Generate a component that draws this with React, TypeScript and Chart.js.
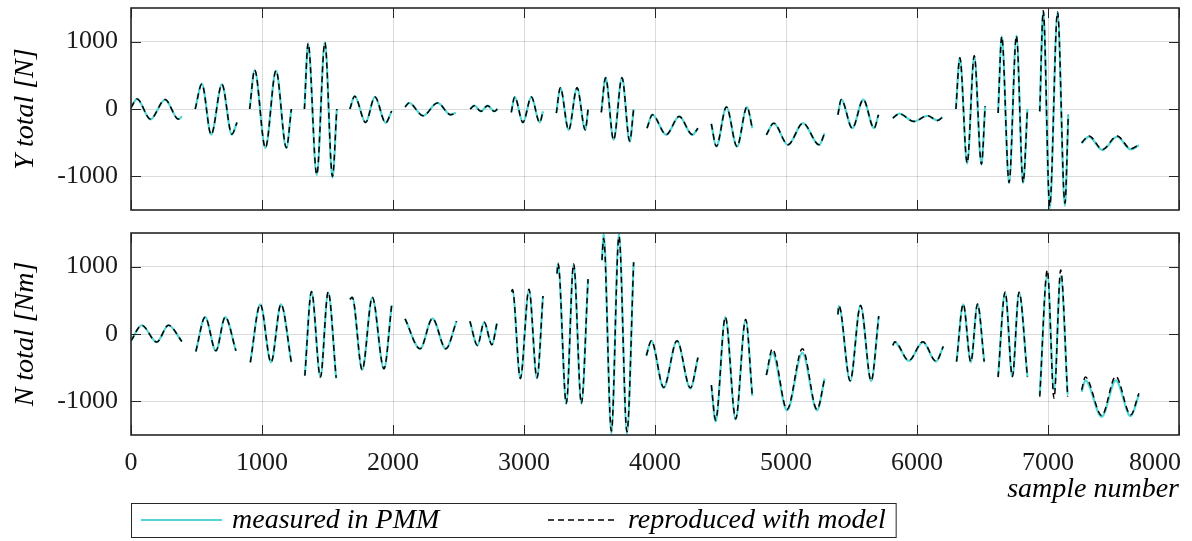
import React, { useEffect, useRef } from 'react';
import { Chart, registerables } from 'chart.js';

Chart.register(...registerables);

// ---------- axis ticks ----------
const sampleTicks = [0, 1000, 2000, 3000, 4000, 5000, 6000, 7000, 8000];
const valueTicks = [-1000, 0, 1000];

// ---------- Y total [N] (upper panel); null = gap between runs ----------
const ySamples = [
  0, 46, 148, 260, 362, 390, 440,
  490, 541, 612, 694, 770, 809, 857,
  906, 944, 1026, 1107, 1186, 1224, 1274,
  1324, 1352, 1418, 1480, 1538, 1571, 1620,
  1671, 1707, 1791, 1862, 1944, 1990, 2040,
  2092, 2122, 2230, 2339, 2441, 2480, 2535,
  2589, 2620, 2671, 2722, 2773, 2798, 2850,
  2903, 2929, 2992, 3056, 3120, 3145, 3195,
  3247, 3277, 3341, 3405, 3468, 3489, 3540,
  3590, 3623, 3684, 3748, 3807, 3837, 3888,
  3939, 3980, 4085, 4185, 4285, 4328, 4380,
  4430, 4468, 4545, 4626, 4702, 4743, 4797,
  4850, 4906, 5015, 5130, 5252, 5295, 5345,
  5396, 5422, 5506, 5590, 5672, 5706, 5760,
  5815, 5865, 5975, 6081, 6157, 6195, 6245,
  6297, 6327, 6383, 6437, 6492, 6520, 6570,
  6619, 6647, 6703, 6759, 6810, 6843, 6890,
  6937, 6964, 7013, 7073, 7129, 7155, 7205,
  7256, 7313, 7415, 7528, 7631, 7694,
];
const yMeasured = [
  20, 150, -155, 140, -150, -110, null,
  0, 375, -380, 365, -380, -200, null,
  0, 575, -580, 570, -580, 0, null,
  0, 960, -980, 990, -1020, 0, null,
  0, 190, -200, 180, -205, -30, null,
  30, 90, -100, 90, -85, -55, null,
  0, 50, -35, 50, -35, 0, null,
  -50, 180, -200, 180, -200, -35, null,
  -60, 315, -310, 315, -310, -10, null,
  -50, 465, -460, 465, -485, 0, null,
  -285, -85, -385, -110, -385, -285, null,
  -220, -560, 30, -560, 30, -285, null,
  -385, -210, -535, -210, -535, -360, null,
  -85, 140, -285, 140, -285, -85, null,
  -135, -70, -185, -100, -170, -120, null,
  0, 765, -810, 790, -825, 40, null,
  -60, 1080, -1100, 1090, -1100, 0, null,
  -35, 1450, -1490, 1440, -1440, -85, null,
  -510, -410, -610, -410, -600, -540,
];
const yModel = [
  20, 150, -150, 140, -150, -110, null,
  0, 370, -380, 365, -375, -200, null,
  0, 580, -575, 570, -575, 0, null,
  0, 975, -975, 985, -1000, 0, null,
  0, 190, -200, 180, -205, -30, null,
  30, 90, -100, 90, -85, -55, null,
  0, 50, -35, 50, -35, 0, null,
  -50, 180, -200, 180, -200, -35, null,
  -60, 315, -310, 315, -310, -10, null,
  -50, 465, -460, 465, -475, 0, null,
  -285, -85, -380, -110, -380, -285, null,
  -220, -555, 30, -555, 30, -285, null,
  -385, -210, -530, -210, -530, -360, null,
  -85, 140, -285, 140, -285, -85, null,
  -135, -70, -185, -100, -170, -120, null,
  0, 760, -800, 790, -820, 40, null,
  -60, 1075, -1090, 1085, -1090, 0, null,
  -35, 1460, -1440, 1440, -1400, -85, null,
  -500, -400, -600, -400, -590, -530,
];

// ---------- N total [Nm] (lower panel) ----------
const nSamples = [
  0, 82, 196, 286, 388, 440,
  495, 566, 648, 719, 801, 855,
  911, 987, 1069, 1145, 1224, 1275,
  1327, 1378, 1446, 1505, 1566, 1620,
  1671, 1689, 1765, 1842, 1931, 1990, 2040,
  2092, 2207, 2301, 2403, 2485, 2537,
  2587, 2645, 2696, 2755, 2793, 2850,
  2905, 2912, 2972, 3038, 3099, 3145, 3198,
  3252, 3260, 3323, 3379, 3438, 3489, 3542,
  3595, 3608, 3667, 3725, 3786, 3837, 3886,
  3934, 3972, 4066, 4168, 4270, 4328, 4380,
  4430, 4463, 4537, 4616, 4692, 4743, 4797,
  4850, 4896, 5008, 5125, 5237, 5295, 5345,
  5396, 5404, 5490, 5569, 5650, 5708, 5760,
  5815, 5830, 5937, 6045, 6145, 6201, 6250,
  6302, 6353, 6411, 6462, 6513, 6566,
  6619, 6673, 6728, 6779, 6843, 6890,
  6937, 6995, 7046, 7097, 7150, 7200,
  7257, 7285, 7410, 7517, 7631, 7694,
];
const nMeasured = [
  -100, 130, -120, 130, -110, null,
  -260, 250, -250, 250, -250, null,
  -420, 440, -420, 440, -420, null,
  -610, 625, -635, 615, -660, null,
  515, 540, -535, 540, -520, 430, null,
  225, -220, 230, -220, 190, null,
  190, -170, 175, -160, 155, null,
  620, 650, -660, 655, -660, 565, null,
  890, 1040, -1035, 1030, -1035, 815, null,
  1090, 1500, -1480, 1500, -1480, 1065, null,
  -320, -100, -800, -100, -810, -350, null,
  -760, -1300, 250, -1270, 215, -920, null,
  -610, -280, -1135, -280, -1135, -660, null,
  290, 415, -700, 425, -700, 265, null,
  -170, -120, -400, -120, -410, -185, null,
  -410, 440, -420, 440, -410, null,
  -635, 615, -635, 615, -635, null,
  -900, 880, -830, 860, -900, null,
  -860, -690, -1230, -690, -1220, -900,
];
const nModel = [
  -100, 130, -120, 130, -110, null,
  -260, 250, -250, 250, -250, null,
  -420, 440, -420, 440, -420, null,
  -620, 630, -640, 625, -650, null,
  515, 545, -530, 545, -515, 430, null,
  225, -220, 230, -220, 190, null,
  190, -170, 175, -160, 155, null,
  630, 660, -660, 665, -650, 565, null,
  900, 1050, -1030, 1040, -1030, 815, null,
  1100, 1420, -1440, 1450, -1450, 1065, null,
  -320, -100, -790, -100, -800, -350, null,
  -760, -1280, 250, -1260, 215, -920, null,
  -610, -220, -1120, -220, -1120, -660, null,
  290, 420, -695, 425, -695, 265, null,
  -170, -115, -395, -115, -405, -185, null,
  -410, 445, -415, 445, -410, null,
  -640, 625, -630, 620, -640, null,
  -930, 950, -955, 950, -930, null,
  -830, -640, -1210, -630, -1200, -880,
];

const seriesLabels = ['measured in PMM', 'reproduced with model'];
const measuredColor = 'rgb(80, 214, 214)';
const modelColor = '#000000';
const frameColor = '#262626';
const labelColor = '#1a1a1a';
const gridColor = 'rgba(0,0,0,0.14)';
const serif = "'Liberation Serif', 'Times New Roman', serif";
const tickFontSize = 26;
const tickPadding = 13;

const framePlugin = {
  id: 'matlabFrame',
  afterDraw(chart: any) {
    const { ctx, chartArea, scales } = chart;
    const { left, right, top, bottom } = chartArea;
    ctx.save();
    ctx.strokeStyle = frameColor;
    ctx.lineWidth = 1;
    ctx.beginPath();
    for (const v of sampleTicks) {
      const px = Math.round(scales.x.getPixelForValue(v)) + 0.5;
      ctx.moveTo(px, top);
      ctx.lineTo(px, top + 10);
      ctx.moveTo(px, bottom);
      ctx.lineTo(px, bottom - 10);
    }
    for (const v of valueTicks) {
      const py = Math.round(scales.y.getPixelForValue(v)) + 0.5;
      ctx.moveTo(left, py);
      ctx.lineTo(left + 10, py);
      ctx.moveTo(right, py);
      ctx.lineTo(right - 10, py);
    }
    ctx.stroke();
    ctx.lineWidth = 1.6;
    ctx.strokeRect(left, top, right - left, bottom - top);

    // the last sample-number label sits flush with the right edge of the axes
    if (scales.x.options.ticks.display) {
      const last = sampleTicks[sampleTicks.length - 1];
      ctx.font = `${tickFontSize}px ${serif}`;
      ctx.fillStyle = labelColor;
      ctx.textAlign = 'right';
      ctx.textBaseline = 'middle';
      ctx.fillText(
        String(last),
        scales.x.getPixelForValue(last) + 2,
        scales.x.top + tickPadding + (tickFontSize * 1.2) / 2
      );
    }
    ctx.restore();
  },
};

const boxLegendPlugin = {
  id: 'boxLegend',
  afterDraw(chart: any) {
    const { ctx } = chart;
    const ds = chart.data.datasets;
    const boxLeft = 131;
    const boxTop = 281;
    const boxH = 34;
    const cy = boxTop + boxH / 2;
    ctx.save();
    ctx.font = `italic 28px ${serif}`;
    ctx.textBaseline = 'middle';
    ctx.fillStyle = '#000';
    const meas = ds.find((d: any) => d.label === seriesLabels[0]);
    const mod = ds.find((d: any) => d.label === seriesLabels[1]);
    // measured entry
    ctx.strokeStyle = meas.borderColor;
    ctx.lineWidth = 2;
    ctx.beginPath();
    ctx.moveTo(141, cy);
    ctx.lineTo(222, cy);
    ctx.stroke();
    ctx.fillText(meas.label, 232, cy + 1);
    // model entry
    ctx.strokeStyle = mod.borderColor;
    ctx.lineWidth = 1.5;
    ctx.setLineDash(mod.borderDash);
    ctx.beginPath();
    ctx.moveTo(548, cy);
    ctx.lineTo(616, cy);
    ctx.stroke();
    ctx.setLineDash([]);
    const x2 = 628;
    ctx.fillText(mod.label, x2, cy + 1);
    const w2 = ctx.measureText(mod.label).width;
    const boxRight = x2 + w2 + 10;
    ctx.strokeStyle = frameColor;
    ctx.lineWidth = 1;
    ctx.strokeRect(boxLeft + 0.5, boxTop + 0.5, boxRight - boxLeft, boxH);
    ctx.restore();
  },
};

function toPoints(xs: number[], ys: (number | null)[]) {
  return xs.map((x, i) => ({ x, y: ys[i] }));
}

const plainLabel = (v: any) => String(v);
const sampleLabel = (v: any, i: number, ticks: any[]) =>
  i === ticks.length - 1 ? '' : String(v);

function buildConfig(
  xs: number[],
  measured: (number | null)[],
  model: (number | null)[],
  yTitle: string,
  bottom: boolean
): any {
  return {
    type: 'line',
    data: {
      datasets: [
        {
          label: seriesLabels[1],
          data: toPoints(xs, model),
          borderColor: modelColor,
          borderWidth: 1.5,
          borderDash: [6, 4],
          pointRadius: 0,
          cubicInterpolationMode: 'monotone',
          spanGaps: false,
          order: 0,
        },
        {
          label: seriesLabels[0],
          data: toPoints(xs, measured),
          borderColor: measuredColor,
          borderWidth: 2.2,
          pointRadius: 0,
          cubicInterpolationMode: 'monotone',
          spanGaps: false,
          order: 1,
        },
      ],
    },
    options: {
      animation: false,
      responsive: false,
      maintainAspectRatio: false,
      events: [],
      layout: {
        padding: bottom
          ? { left: 0, right: 13, top: 11, bottom: 26 }
          : { left: 0, right: 13, top: 8, bottom: 12 },
      },
      plugins: {
        legend: { display: false },
        tooltip: { enabled: false },
      },
      scales: {
        x: {
          type: 'linear',
          min: 0,
          max: 8000,
          afterBuildTicks: (s: any) => {
            s.ticks = sampleTicks.map((v) => ({ value: v }));
          },
          afterFit: (s: any) => {
            s.height = bottom ? 80 : 0;
            s.paddingLeft = 0;
            s.paddingRight = 0;
            s.paddingTop = 0;
            s.paddingBottom = 0;
          },
          ticks: {
            display: bottom,
            padding: tickPadding,
            color: labelColor,
            maxRotation: 0,
            autoSkip: false,
            callback: sampleLabel,
            font: { family: serif, size: tickFontSize, lineHeight: 1.2 },
          },
          grid: { color: gridColor, lineWidth: 1, drawTicks: false },
          border: { display: false },
          title: {
            display: bottom,
            text: 'sample number',
            align: 'end',
            color: '#000',
            font: { family: serif, size: 28, style: 'italic', lineHeight: 1.2 },
            padding: { top: 0, bottom: 9 },
          },
        },
        y: {
          type: 'linear',
          min: -1500,
          max: 1500,
          afterBuildTicks: (s: any) => {
            s.ticks = valueTicks.map((v) => ({ value: v }));
          },
          afterFit: (s: any) => {
            s.width = 131;
            s.paddingLeft = 0;
            s.paddingRight = 0;
            s.paddingTop = 0;
            s.paddingBottom = 0;
          },
          ticks: {
            padding: 13,
            color: labelColor,
            callback: plainLabel,
            font: { family: serif, size: tickFontSize, lineHeight: 1.2 },
          },
          grid: { color: gridColor, lineWidth: 1, drawTicks: false },
          border: { display: false },
          title: {
            display: true,
            text: yTitle,
            color: '#000',
            font: { family: serif, size: 28, style: 'italic', lineHeight: 1.2 },
            padding: { top: 9, bottom: 0 },
          },
        },
      },
    },
    plugins: bottom ? [framePlugin, boxLegendPlugin] : [framePlugin],
  };
}

export default function App() {
  const topRef = useRef<HTMLCanvasElement>(null);
  const botRef = useRef<HTMLCanvasElement>(null);

  useEffect(() => {
    const top = new Chart(
      topRef.current as HTMLCanvasElement,
      buildConfig(ySamples, yMeasured, yModel, 'Y total [N]', false)
    );
    const bot = new Chart(
      botRef.current as HTMLCanvasElement,
      buildConfig(nSamples, nMeasured, nModel, 'N total [Nm]', true)
    );
    return () => {
      top.destroy();
      bot.destroy();
    };
  }, []);

  return (
    <div
      style={{
        position: 'fixed',
        left: 0,
        top: 0,
        width: 1192,
        height: 541,
        background: '#ffffff',
        overflow: 'hidden',
      }}
    >
      <canvas
        ref={topRef}
        width={1192}
        height={222}
        style={{ position: 'absolute', left: 0, top: 0, width: 1192, height: 222 }}
      />
      <canvas
        ref={botRef}
        width={1192}
        height={319}
        style={{ position: 'absolute', left: 0, top: 222, width: 1192, height: 319 }}
      />
    </div>
  );
}
